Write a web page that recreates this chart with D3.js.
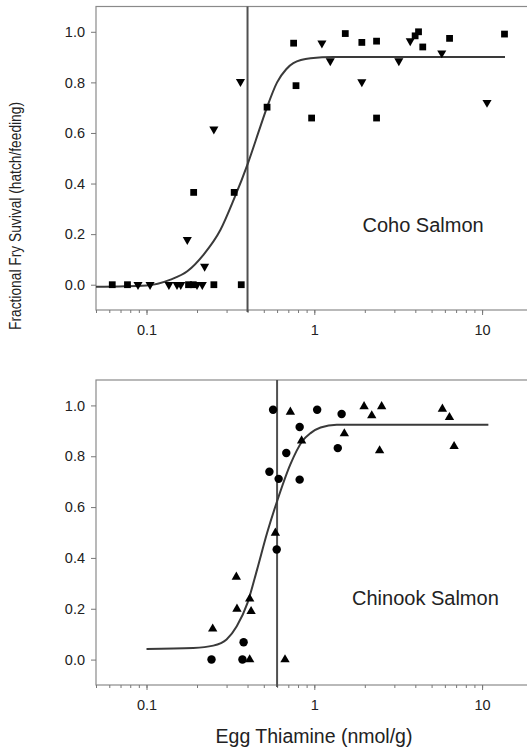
<!DOCTYPE html>
<html>
<head>
<meta charset="utf-8">
<script src="https://cdn.jsdelivr.net/npm/d3@7"></script>
<style>
    body { margin: 0; background: #fff; }
    svg { display: block; font-family: "Liberation Sans", Arial, sans-serif; }
</style>
</head>
<body>
<div id="chart"></div>
<script>
// Data (egg thiamine nmol/g, fractional survival)
const cohoSquares = [
    [0.0625, 0], [0.077, 0], [0.178, 0], [0.19, 0], [0.252, 0], [0.367, 0],
    [0.191, 0.365], [0.333, 0.365], [0.523, 0.702], [0.753, 0.955], [0.778, 0.787],
    [0.964, 0.659], [1.53, 0.993], [1.92, 0.958], [2.35, 0.963], [2.35, 0.659],
    [3.99, 0.984], [4.18, 1.0], [4.43, 0.94], [6.4, 0.974], [13.6, 0.991]
];

const cohoTriangles = [
    [0.089, 0], [0.105, 0], [0.136, 0], [0.152, 0], [0.16, 0], [0.2, 0], [0.215, 0],
    [0.175, 0.178], [0.222, 0.072], [0.252, 0.615], [0.363, 0.803],
    [1.11, 0.955], [1.245, 0.885], [1.92, 0.802], [3.19, 0.885], [3.73, 0.964],
    [5.75, 0.916], [10.7, 0.72]
];

const cohoCurve = [
    [0.05, -0.008], [0.1, -0.003], [0.139, 0.02], [0.175, 0.053], [0.219, 0.119],
    [0.276, 0.217], [0.331, 0.336], [0.403, 0.482], [0.477, 0.625], [0.523, 0.702],
    [0.6, 0.8], [0.68, 0.852], [0.75, 0.876], [0.95, 0.895], [1.3, 0.9], [13.7, 0.9]
];

const chinookCircles = [
    [0.244, 0], [0.373, 0], [0.379, 0.068], [0.568, 0.983], [0.54, 0.739],
    [0.613, 0.711], [0.597, 0.433], [0.681, 0.813], [0.818, 0.915], [0.818, 0.708],
    [1.04, 0.983], [1.455, 0.966], [1.38, 0.832]
];

const chinookTriangles = [
    [0.248, 0.121], [0.343, 0.325], [0.346, 0.199], [0.412, 0.239], [0.42, 0.19],
    [0.412, 0], [0.586, 0.498], [0.72, 0.974], [0.84, 0.861], [0.669, 0],
    [1.51, 0.889], [1.98, 0.996], [2.2, 0.96], [2.52, 0.996], [2.45, 0.822],
    [5.8, 0.986], [6.39, 0.953], [6.81, 0.839]
];

const chinookCurve = [
    [0.1, 0.042], [0.19, 0.046], [0.25, 0.055], [0.3, 0.079], [0.345, 0.131],
    [0.4, 0.223], [0.456, 0.354], [0.523, 0.498], [0.6, 0.623], [0.72, 0.768],
    [0.85, 0.86], [0.95, 0.891], [1.09, 0.913], [1.36, 0.924], [10.9, 0.924]
];

const cohoThreshold = 0.4;
const chinookThreshold = 0.6;

const xTickLabels = [0.1, 1, 10];
const yTickLabels = [0, 0.2, 0.4, 0.6, 0.8, 1.0];

const width = 527;
const height = 748;

const svg = d3.select("#chart")
    .append("svg")
    .attr("width", width)
    .attr("height", height);

const x = d3.scaleLog()
    .domain([0.05, 20])
    .range([96, 532.6]);

function drawPanel(yRange, series, curve, threshold, label, labelY) {
    const y = d3.scaleLinear()
        .domain([-0.1, 1.1])
        .range(yRange);

    const g = svg.append("g");

    // frame (right side runs off the page)
    g.append("rect")
        .attr("x", x.range()[0])
        .attr("y", yRange[1])
        .attr("width", x.range()[1] - x.range()[0])
        .attr("height", yRange[0] - yRange[1])
        .attr("fill", "none")
        .attr("stroke", "#8a8a8a")
        .attr("stroke-width", 1.2);

    // minor x ticks
    g.append("g")
        .attr("transform", `translate(0, ${yRange[0]})`)
        .call(d3.axisBottom(x).tickValues(x.ticks()).tickSize(3).tickFormat(""))
        .call(a => a.select(".domain").remove())
        .selectAll("line").attr("stroke", "#777");

    // major x ticks with labels
    const xa = g.append("g")
        .attr("transform", `translate(0, ${yRange[0]})`)
        .call(d3.axisBottom(x).tickValues(xTickLabels).tickSize(5).tickPadding(10)
            .tickFormat(d3.format("")));
    xa.select(".domain").remove();
    xa.selectAll("line").attr("stroke", "#777");
    xa.selectAll("text").attr("font-size", 14.5).attr("fill", "#222")
        .attr("font-family", "Liberation Sans, Arial, sans-serif");

    const ya = g.append("g")
        .attr("transform", `translate(${x.range()[0]}, 0)`)
        .call(d3.axisLeft(y).tickValues(yTickLabels).tickSize(5).tickPadding(6)
            .tickFormat(d3.format(".1f")));
    ya.select(".domain").remove();
    ya.selectAll("line").attr("stroke", "#777");
    ya.selectAll("text").attr("font-size", 14.5).attr("fill", "#222")
        .attr("font-family", "Liberation Sans, Arial, sans-serif");

    // threshold line
    g.append("line")
        .attr("x1", x(threshold))
        .attr("x2", x(threshold))
        .attr("y1", yRange[1])
        .attr("y2", yRange[0] + 2)
        .attr("stroke", "#505050")
        .attr("stroke-width", 2);

    // fitted curve
    const line = d3.line()
        .x(d => x(d[0]))
        .y(d => y(d[1]))
        .curve(d3.curveMonotoneX);

    g.append("path")
        .datum(curve)
        .attr("fill", "none")
        .attr("stroke", "#3a3a3a")
        .attr("stroke-width", 2)
        .attr("d", line);

    series.forEach(s => {
        g.selectAll(null)
            .data(s.data)
            .enter().append("path")
            .attr("d", d3.symbol().type(s.type).size(s.size))
            .attr("transform", d => `translate(${x(d[0])},${y(d[1])})` + (s.flip ? " rotate(180)" : ""))
            .attr("fill", "#000");
    });

    g.append("text")
        .attr("x", label.x)
        .attr("y", labelY)
        .attr("font-size", 20)
        .attr("fill", "#222")
        .text(label.text);
}

drawPanel([310, 6.5],
    [
        { data: cohoSquares, type: d3.symbolSquare, size: 46 },
        { data: cohoTriangles, type: d3.symbolTriangle, size: 36, flip: true }
    ],
    cohoCurve, cohoThreshold, { x: 362.5, text: "Coho Salmon" }, 231.5);

drawPanel([685, 380],
    [
        { data: chinookCircles, type: d3.symbolCircle, size: 56 },
        { data: chinookTriangles, type: d3.symbolTriangle, size: 38 }
    ],
    chinookCurve, chinookThreshold, { x: 352, text: "Chinook Salmon" }, 605);

// axis titles
svg.append("text")
    .attr("x", 314)
    .attr("y", 743)
    .attr("text-anchor", "middle")
    .attr("font-size", 19.5)
    .attr("fill", "#222")
    .text("Egg Thiamine (nmol/g)");

svg.append("text")
    .attr("transform", "translate(20.5, 216) rotate(-90)")
    .attr("text-anchor", "middle")
    .attr("font-size", 16)
    .attr("textLength", 228)
    .attr("lengthAdjust", "spacingAndGlyphs")
    .attr("fill", "#222")
    .text("Fractional Fry Suvival (hatch/feeding)");
</script>
</body>
</html>
